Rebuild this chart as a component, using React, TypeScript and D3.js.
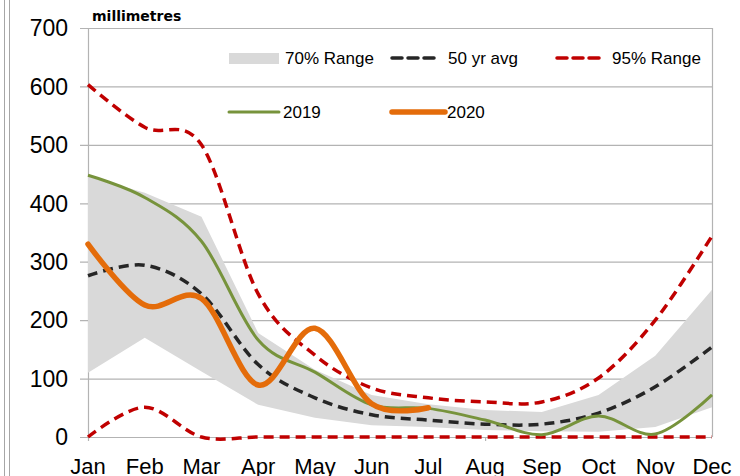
import React from 'react'
import * as d3 from 'd3'

const months = ['Jan', 'Feb', 'Mar', 'Apr', 'May', 'Jun', 'Jul', 'Aug', 'Sep', 'Oct', 'Nov', 'Dec']
const yTicks = [0, 100, 200, 300, 400, 500, 600, 700]

const range70Hi = [446, 418, 377, 178, 115, 72, 56, 46, 43, 72, 139, 252]
const range70Lo = [110, 170, 112, 55, 33, 20, 17, 12, 10, 9, 17, 51]
const avg50 = [276, 294, 245, 124, 67, 38, 29, 22, 22, 41, 86, 154]
const range95Hi = [603, 530, 500, 245, 140, 84, 67, 60, 60, 101, 200, 344]
const range95Lo = [0, 51, 0, 0, 0, 0, 0, 0, 0, 0, 0, 0]
const y2019 = [448, 410, 335, 166, 111, 55, 49, 29, 4, 36, 5, 72]
const y2020 = [330, 226, 237, 89, 186, 57, 50]

const W = 740
const H = 476

export default function App() {
    const [left, right, top, bottom] = [88, 712, 28, 437]
    const x = d3.scalePoint<string>().domain(months).range([left, right])
    const y = d3.scaleLinear().domain([0, 700]).range([bottom, top])

    const curve = d3.curveCatmullRom.alpha(0)
    const line = d3
        .line<number>()
        .x((_, i) => x(months[i]) as number)
        .y(d => y(d))
        .curve(curve)

    const band = d3
        .area<number>()
        .x((_, i) => x(months[i]) as number)
        .y0((_, i) => y(range70Lo[i]))
        .y1(d => y(d))

    const font = 'Arial, "Liberation Sans", sans-serif'
    const red = '#c00000'
    const dark = '#262626'
    const green = '#77933c'
    const orange = '#e46c0a'

    return (
        <div style={{ position: 'fixed', left: 0, top: 0 }}>
            <svg width={W} height={H} style={{ display: 'block', background: 'white' }} fontFamily={font}>
                {/* frame lines on the left */}
                <line x1={4.5} x2={4.5} y1={0} y2={H} stroke='#a6a6a6' strokeWidth={1} />
                <line x1={9.5} x2={9.5} y1={0} y2={H} stroke='#a6a6a6' strokeWidth={1} />

                {/* grid */}
                {yTicks.map(t => (
                    <g key={t}>
                        <line x1={80} x2={right} y1={y(t) + 0.5} y2={y(t) + 0.5} stroke='#b3b3b3' strokeWidth={1.2} />
                        <text x={68} y={y(t)} dy='0.36em' textAnchor='end' fontSize={23} fill='#000'>
                            {t}
                        </text>
                    </g>
                ))}
                <line x1={right + 0.5} x2={right + 0.5} y1={top} y2={bottom} stroke='#b3b3b3' strokeWidth={1.2} />
                <line x1={left + 0.5} x2={left + 0.5} y1={top} y2={bottom + 4} stroke='#b3b3b3' strokeWidth={1.2} />
                <line x1={(x('Aug') as number) + 0.5} x2={(x('Aug') as number) + 0.5} y1={bottom} y2={bottom + 4} stroke='#b3b3b3' strokeWidth={1.2} />

                <text x={92} y={21} fontSize={14} fontWeight='bold' fontFamily='Verdana, "DejaVu Sans", sans-serif'>
                    millimetres
                </text>

                {/* series */}
                <path d={band(range70Hi) || ''} fill='#d9d9d9' />
                <path d={line(range95Lo) || ''} fill='none' stroke={red} strokeWidth={3.5} strokeDasharray='10 6' />
                <path d={line(range95Hi) || ''} fill='none' stroke={red} strokeWidth={3.5} strokeDasharray='10 6' />
                <path d={line(avg50) || ''} fill='none' stroke={dark} strokeWidth={3.5} strokeDasharray='10 6' />
                <path d={line(y2019) || ''} fill='none' stroke={green} strokeWidth={3} />
                <path d={line(y2020) || ''} fill='none' stroke={orange} strokeWidth={5.5} strokeLinecap='round' />

                {/* x labels */}
                {months.map(m => (
                    <text key={m} x={x(m)} y={474} textAnchor='middle' fontSize={22} fill='#000'>
                        {m}
                    </text>
                ))}

                {/* legend */}
                <g fontSize={17} fill='#000'>
                    <rect x={229} y={53} width={50} height={11} fill='#d9d9d9' />
                    <text x={285} y={58} dy='0.36em'>70% Range</text>
                    <line x1={392} x2={439} y1={58} y2={58} stroke={dark} strokeWidth={3.5} strokeDasharray='10 6' strokeLinecap='round' />
                    <text x={448} y={58} dy='0.36em'>50 yr avg</text>
                    <line x1={557} x2={603} y1={58} y2={58} stroke={red} strokeWidth={3.5} strokeDasharray='10 6' strokeLinecap='round' />
                    <text x={612} y={58} dy='0.36em'>95% Range</text>
                    <line x1={229} x2={279} y1={112} y2={112} stroke={green} strokeWidth={3} strokeLinecap='round' />
                    <text x={283} y={112} dy='0.36em'>2019</text>
                    <line x1={392} x2={445} y1={112} y2={112} stroke={orange} strokeWidth={5.5} strokeLinecap='round' />
                    <text x={447} y={112} dy='0.36em'>2020</text>
                </g>
            </svg>
        </div>
    )
}
